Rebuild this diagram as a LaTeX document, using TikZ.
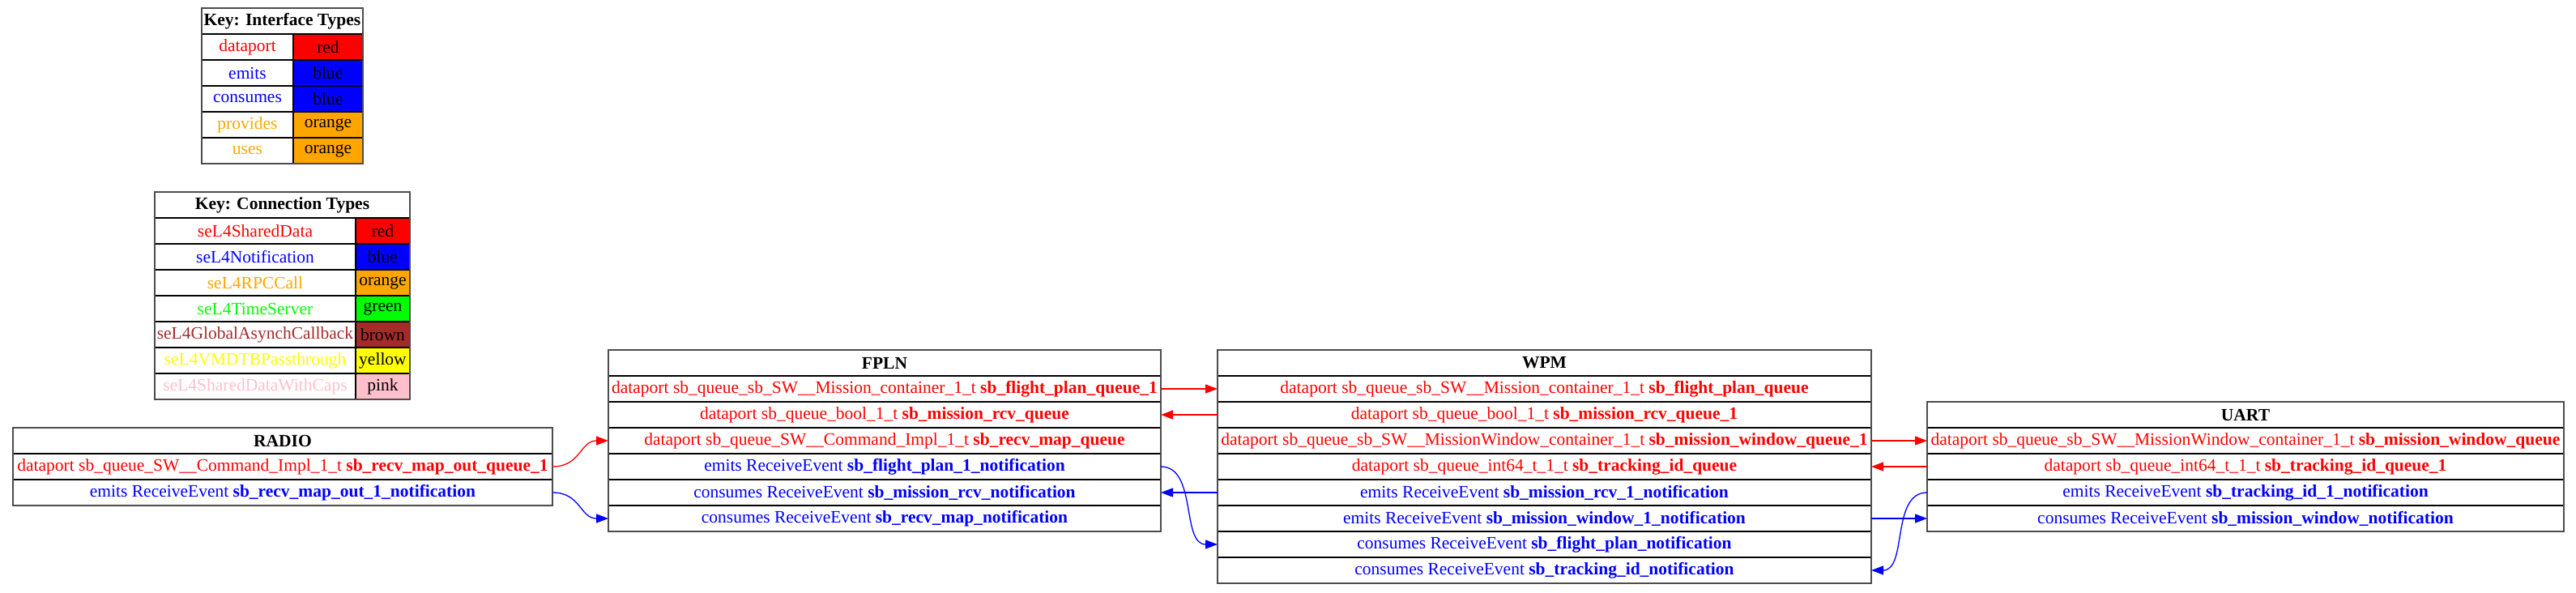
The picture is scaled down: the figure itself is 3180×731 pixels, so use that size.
\documentclass[tikz,border=0pt]{standalone}
\usepackage{fontspec}
\setmainfont{Liberation Serif}
\usetikzlibrary{arrows.meta}
\definecolor{gvred}{HTML}{FF0000}
\definecolor{gvblue}{HTML}{0000FF}
\definecolor{gvorange}{HTML}{FFA500}
\definecolor{gvgreen}{HTML}{00FF00}
\definecolor{gvbrown}{HTML}{A52A2A}
\definecolor{gvyellow}{HTML}{FFFF00}
\definecolor{gvpink}{HTML}{FFC0CB}
\begin{document}
\begin{tikzpicture}[x=1pt,y=-1pt,
  cell/.style={draw=black, line width=1.4pt, minimum height=32pt, inner sep=0pt, outer sep=0pt,
    font=\fontsize{21.5}{25}\selectfont, anchor=center},
  hdr/.style={cell, font=\fontsize{21.5}{25}\selectfont\bfseries},
  frame/.style={draw=black!70, line width=2pt},
  redge/.style={draw=gvred, line width=1.3pt, -{Triangle[length=15pt,width=11pt]}},
  bedge/.style={draw=gvblue, line width=1.3pt, -{Triangle[length=15pt,width=11pt]}}]

\useasboundingbox (0,0) rectangle (3180,731);

% Key: Interface Types
\node[hdr, minimum width=199pt] (ki-h) at (348.5,26) {Key: Interface Types};
\node[cell, minimum width=113pt, text=gvred] (ki-1a) at (305.5,58) {dataport};
\node[cell, minimum width=86pt, fill=gvred] (ki-1b) at (405,58) {red};
\node[cell, minimum width=113pt, text=gvblue] (ki-2a) at (305.5,90) {emits};
\node[cell, minimum width=86pt, fill=gvblue] (ki-2b) at (405,90) {blue};
\node[cell, minimum width=113pt, text=gvblue] (ki-3a) at (305.5,122) {consumes};
\node[cell, minimum width=86pt, fill=gvblue] (ki-3b) at (405,122) {blue};
\node[cell, minimum width=113pt, text=gvorange] (ki-4a) at (305.5,154) {provides};
\node[cell, minimum width=86pt, fill=gvorange] (ki-4b) at (405,154) {orange};
\node[cell, minimum width=113pt, text=gvorange] (ki-5a) at (305.5,186) {uses};
\node[cell, minimum width=86pt, fill=gvorange] (ki-5b) at (405,186) {orange};
\draw[frame] (ki-h.north west) rectangle (ki-5b.south east);

% Key: Connection Types
\node[hdr, minimum width=315pt] (kc-h) at (348.5,253) {Key: Connection Types};
\node[cell, minimum width=248pt, text=gvred] (kc-1a) at (315,285) {seL4SharedData};
\node[cell, minimum width=67pt, fill=gvred] (kc-1b) at (472.5,285) {red};
\node[cell, minimum width=248pt, text=gvblue] (kc-2a) at (315,317) {seL4Notification};
\node[cell, minimum width=67pt, fill=gvblue] (kc-2b) at (472.5,317) {blue};
\node[cell, minimum width=248pt, text=gvorange] (kc-3a) at (315,349) {seL4RPCCall};
\node[cell, minimum width=67pt, fill=gvorange] (kc-3b) at (472.5,349) {orange};
\node[cell, minimum width=248pt, text=gvgreen] (kc-4a) at (315,381) {seL4TimeServer};
\node[cell, minimum width=67pt, fill=gvgreen] (kc-4b) at (472.5,381) {green};
\node[cell, minimum width=248pt, text=gvbrown] (kc-5a) at (315,413) {seL4GlobalAsynchCallback};
\node[cell, minimum width=67pt, fill=gvbrown] (kc-5b) at (472.5,413) {brown};
\node[cell, minimum width=248pt, text=gvyellow] (kc-6a) at (315,445) {seL4VMDTBPassthrough};
\node[cell, minimum width=67pt, fill=gvyellow] (kc-6b) at (472.5,445) {yellow};
\node[cell, minimum width=248pt, text=gvpink] (kc-7a) at (315,477) {seL4SharedDataWithCaps};
\node[cell, minimum width=67pt, fill=gvpink] (kc-7b) at (472.5,477) {pink};
\draw[frame] (kc-h.north west) rectangle (kc-7b.south east);

% RADIO
\node[hdr, minimum width=666pt] (radio-h) at (349,544) {RADIO};
\node[cell, minimum width=666pt, text=gvred] (radio-1) at (349,576) {dataport sb\_queue\_SW\_\_Command\_Impl\_1\_t \textbf{sb\_recv\_map\_out\_queue\_1}};
\node[cell, minimum width=666pt, text=gvblue] (radio-2) at (349,608) {emits ReceiveEvent \textbf{sb\_recv\_map\_out\_1\_notification}};
\draw[frame] (radio-h.north west) rectangle (radio-2.south east);

% FPLN
\node[hdr, minimum width=682pt] (fpln-h) at (1092,448) {FPLN};
\node[cell, minimum width=682pt, text=gvred] (fpln-1) at (1092,480) {dataport sb\_queue\_sb\_SW\_\_Mission\_container\_1\_t \textbf{sb\_flight\_plan\_queue\_1}};
\node[cell, minimum width=682pt, text=gvred] (fpln-2) at (1092,512) {dataport sb\_queue\_bool\_1\_t \textbf{sb\_mission\_rcv\_queue}};
\node[cell, minimum width=682pt, text=gvred] (fpln-3) at (1092,544) {dataport sb\_queue\_SW\_\_Command\_Impl\_1\_t \textbf{sb\_recv\_map\_queue}};
\node[cell, minimum width=682pt, text=gvblue] (fpln-4) at (1092,576) {emits ReceiveEvent \textbf{sb\_flight\_plan\_1\_notification}};
\node[cell, minimum width=682pt, text=gvblue] (fpln-5) at (1092,608) {consumes ReceiveEvent \textbf{sb\_mission\_rcv\_notification}};
\node[cell, minimum width=682pt, text=gvblue] (fpln-6) at (1092,640) {consumes ReceiveEvent \textbf{sb\_recv\_map\_notification}};
\draw[frame] (fpln-h.north west) rectangle (fpln-6.south east);

% WPM
\node[hdr, minimum width=807pt] (wpm-h) at (1906.5,448) {WPM};
\node[cell, minimum width=807pt, text=gvred] (wpm-1) at (1906.5,480) {dataport sb\_queue\_sb\_SW\_\_Mission\_container\_1\_t \textbf{sb\_flight\_plan\_queue}};
\node[cell, minimum width=807pt, text=gvred] (wpm-2) at (1906.5,512) {dataport sb\_queue\_bool\_1\_t \textbf{sb\_mission\_rcv\_queue\_1}};
\node[cell, minimum width=807pt, text=gvred] (wpm-3) at (1906.5,544) {dataport sb\_queue\_sb\_SW\_\_MissionWindow\_container\_1\_t \textbf{sb\_mission\_window\_queue\_1}};
\node[cell, minimum width=807pt, text=gvred] (wpm-4) at (1906.5,576) {dataport sb\_queue\_int64\_t\_1\_t \textbf{sb\_tracking\_id\_queue}};
\node[cell, minimum width=807pt, text=gvblue] (wpm-5) at (1906.5,608) {emits ReceiveEvent \textbf{sb\_mission\_rcv\_1\_notification}};
\node[cell, minimum width=807pt, text=gvblue] (wpm-6) at (1906.5,640) {emits ReceiveEvent \textbf{sb\_mission\_window\_1\_notification}};
\node[cell, minimum width=807pt, text=gvblue] (wpm-7) at (1906.5,672) {consumes ReceiveEvent \textbf{sb\_flight\_plan\_notification}};
\node[cell, minimum width=807pt, text=gvblue] (wpm-8) at (1906.5,704) {consumes ReceiveEvent \textbf{sb\_tracking\_id\_notification}};
\draw[frame] (wpm-h.north west) rectangle (wpm-8.south east);

% UART
\node[hdr, minimum width=786pt] (uart-h) at (2772,512) {UART};
\node[cell, minimum width=786pt, text=gvred] (uart-1) at (2772,544) {dataport sb\_queue\_sb\_SW\_\_MissionWindow\_container\_1\_t \textbf{sb\_mission\_window\_queue}};
\node[cell, minimum width=786pt, text=gvred] (uart-2) at (2772,576) {dataport sb\_queue\_int64\_t\_1\_t \textbf{sb\_tracking\_id\_queue\_1}};
\node[cell, minimum width=786pt, text=gvblue] (uart-3) at (2772,608) {emits ReceiveEvent \textbf{sb\_tracking\_id\_1\_notification}};
\node[cell, minimum width=786pt, text=gvblue] (uart-4) at (2772,640) {consumes ReceiveEvent \textbf{sb\_mission\_window\_notification}};
\draw[frame] (uart-h.north west) rectangle (uart-4.south east);

% Connections
\draw[redge] (radio-1.east) .. controls +(35,0) and +(-35,0) .. (fpln-3.west);
\draw[bedge] (radio-2.east) .. controls +(35,0) and +(-35,0) .. (fpln-6.west);
\draw[redge] (fpln-1.east) -- (wpm-1.west);
\draw[redge] (wpm-2.west) -- (fpln-2.east);
\draw[bedge] (wpm-5.west) -- (fpln-5.east);
\draw[bedge] (fpln-4.east) .. controls +(45,0) and +(-45,0) .. (wpm-7.west);
\draw[redge] (wpm-3.east) -- (uart-1.west);
\draw[redge] (uart-2.west) -- (wpm-4.east);
\draw[bedge] (wpm-6.east) -- (uart-4.west);
\draw[bedge] (uart-3.west) .. controls +(-45,0) and +(45,0) .. (wpm-8.east);
\end{tikzpicture}
\end{document}
